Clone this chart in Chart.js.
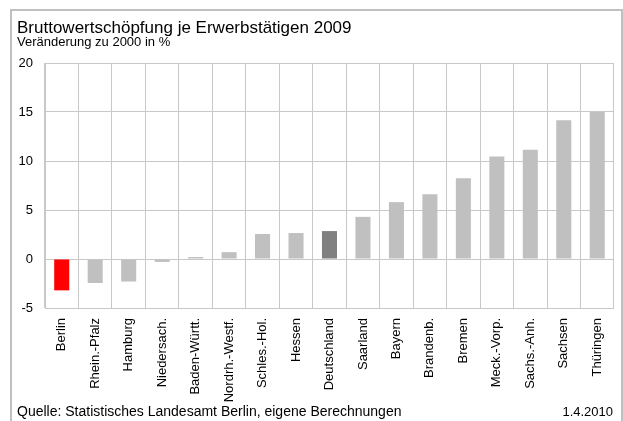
<!DOCTYPE html>
<html>
<head>
<meta charset="utf-8">
<script src="https://cdn.jsdelivr.net/npm/chart.js@4/dist/chart.umd.min.js"></script>
<style>
  html, body { margin: 0; padding: 0; background: #fff; }
  #wrap { width: 623px; height: 421px; }
</style>
</head>
<body>
<div id="wrap"><canvas id="chart" width="623" height="421"></canvas></div>
<script>
const laender = [
  'Berlin', 'Rhein.-Pfalz', 'Hamburg', 'Niedersach.', 'Baden-Württ.',
  'Nordrh.-Westf.', 'Schles.-Hol.', 'Hessen', 'Deutschland', 'Saarland',
  'Bayern', 'Brandenb.', 'Bremen', 'Meck.-Vorp.', 'Sachs.-Anh.',
  'Sachsen', 'Thüringen',
];
const veraenderung = [
  -3.2, -2.45, -2.3, -0.3, 0.2, 0.7, 2.55, 2.65, 2.85, 4.3,
  5.8, 6.6, 8.25, 10.45, 11.15, 14.15, 15.0,
];
const yTicks = [-5, 0, 5, 10, 15, 20];

const title = 'Bruttowertschöpfung je Erwerbstätigen 2009';
const subtitle = 'Veränderung zu 2000 in %';
const quelle = 'Quelle: Statistisches Landesamt Berlin, eigene Berechnungen';
const datum = '1.4.2010';

const fontFamily = '"Liberation Sans", Arial, sans-serif';
const gridColor = '#c8c8c8';

const barColors = laender.map((name) => {
  if (name === 'Berlin') return '#ff0000';
  if (name === 'Deutschland') return '#808080';
  return '#c0c0c0';
});

// Rahmen, Titel und Quelle
const frameTexts = {
  id: 'frameTexts',
  afterDraw(chart) {
    const ctx = chart.ctx;
    ctx.save();
    ctx.strokeStyle = '#c0c0c0';
    ctx.lineWidth = 2;
    ctx.strokeRect(11, 10, 611, 430);

    ctx.fillStyle = '#000';
    ctx.textBaseline = 'alphabetic';
    ctx.textAlign = 'left';
    ctx.font = '17px ' + fontFamily;
    ctx.fillText(title, 17, 33);
    ctx.font = '13px ' + fontFamily;
    ctx.fillText(subtitle, 17, 46);
    ctx.font = '14px ' + fontFamily;
    ctx.fillText(quelle, 17, 416);
    ctx.textAlign = 'right';
    ctx.font = '13px ' + fontFamily;
    ctx.fillText(datum, 613, 416);
    ctx.restore();
  },
};

new Chart(document.getElementById('chart'), {
  type: 'bar',
  data: {
    labels: laender,
    datasets: [
      {
        data: veraenderung,
        backgroundColor: barColors,
        barPercentage: 0.45,
        categoryPercentage: 1,
      },
    ],
  },
  options: {
    responsive: false,
    animation: false,
    layout: { padding: { left: 0, top: 63, right: 5, bottom: 0 } },
    plugins: {
      legend: { display: false },
      tooltip: { enabled: false },
    },
    scales: {
      x: {
        afterFit: (scale) => { scale.height = 113; },
        grid: { color: gridColor, drawTicks: false, offset: true },
        border: { color: gridColor },
        ticks: {
          minRotation: 90,
          maxRotation: 90,
          autoSkip: false,
          padding: 10,
          color: '#000',
          font: { size: 13, family: fontFamily },
        },
      },
      y: {
        min: -5,
        max: 20,
        afterFit: (scale) => { scale.width = 45; },
        afterBuildTicks: (scale) => {
          scale.ticks = yTicks.map((v) => ({ value: v }));
        },
        grid: { color: gridColor, drawTicks: false },
        border: { color: gridColor },
        ticks: {
          padding: 12,
          color: '#000',
          font: { size: 13, family: fontFamily },
        },
      },
    },
  },
  plugins: [frameTexts],
});
</script>
</body>
</html>
